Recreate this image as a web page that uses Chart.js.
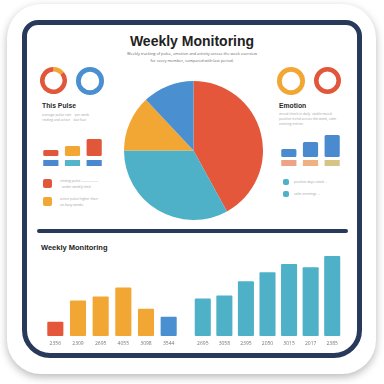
<!DOCTYPE html>
<html>
<head>
<meta charset="utf-8">
<script src="https://cdn.jsdelivr.net/npm/chart.js@4.4.1/dist/chart.umd.min.js"></script>
<style>
  html, body { margin: 0; padding: 0; background: #fff; }
  body { width: 384px; height: 384px; position: relative; overflow: hidden; font-family: "Open Sans", "DejaVu Sans", sans-serif; }
  .card { position: absolute; left: 7px; top: 4px; width: 369px; height: 370px; border-radius: 34px; background: #fff;
          box-shadow: 0 3px 9px rgba(0,0,0,0.28); }
  .frame { position: absolute; left: 22px; top: 20px; width: 330px; height: 328px; border: 5px solid #29395b;
           border-radius: 16px 16px 28px 28px; background: #fff; }
  .abs { position: absolute; }
  canvas.abs { display: block; }
  .title { left: 0; width: 384px; top: 33px; text-align: center; font-family: "Liberation Sans", Arial, sans-serif; font-weight: 700; font-size: 14px; color: #222; }
  .sub { left: 0; width: 384px; text-align: center; font-size: 3.9px; color: #666; line-height: 6px; }
  .lbl { font-family: "Liberation Sans", Arial, sans-serif; font-weight: 700; font-size: 6.8px; color: #2a2a2a; }
  .faint { font-size: 3.4px; color: #a5a5a5; line-height: 5px; white-space: nowrap; }
  .sq { width: 9px; height: 9px; border-radius: 2px; }
  .divider { left: 37px; top: 229px; width: 311px; height: 4px; border-radius: 2px; background: #29395b; }
  .lbl2 { left: 41px; top: 243px; font-family: "Liberation Sans", Arial, sans-serif; font-weight: 700; font-size: 7.5px; color: #222; }
</style>
</head>
<body>
<div class="card"></div>
<div class="frame"></div>

<div class="abs title">Weekly Monitoring</div>
<div class="abs sub" style="top:51px">Weekly tracking of pulse, emotion and activity across the week overview</div>
<div class="abs sub" style="top:58px">for every member, compared with last period.</div>

<canvas id="donutA" class="abs" width="27" height="27" style="left:40px;top:67px"></canvas>
<canvas id="donutB" class="abs" width="28" height="28" style="left:76px;top:67px"></canvas>
<canvas id="donutC" class="abs" width="28" height="28" style="left:277px;top:67px"></canvas>
<canvas id="donutD" class="abs" width="27" height="27" style="left:314px;top:67px"></canvas>

<div class="abs lbl" style="left:42px;top:102px">This Pulse</div>
<div class="abs faint" style="left:42px;top:112px">average pulse rate&nbsp;&nbsp;&nbsp; per week</div>
<div class="abs faint" style="left:42px;top:117px">resting and active&nbsp;&nbsp;&nbsp; last four</div>

<div class="abs lbl" style="left:279px;top:102px">Emotion</div>
<div class="abs faint" style="left:279px;top:111px">mood check in daily&nbsp; stable mood</div>
<div class="abs faint" style="left:279px;top:116px">positive trend across the week, calm</div>
<div class="abs faint" style="left:279px;top:121px">evening entries</div>

<canvas id="miniLeft" class="abs" width="65" height="31" style="left:40px;top:135px"></canvas>
<canvas id="miniRight" class="abs" width="65" height="31" style="left:278px;top:135px"></canvas>

<div class="abs sq" style="left:43px;top:179px;background:#e0573a"></div>
<div class="abs faint" style="left:60px;top:178px">resting pulse —————</div>
<div class="abs faint" style="left:60px;top:184px">&nbsp;&nbsp;under weekly limit</div>
<div class="abs sq" style="left:43px;top:197px;background:#f2a633"></div>
<div class="abs faint" style="left:60px;top:196px">active pulse higher than</div>
<div class="abs faint" style="left:60px;top:202px">on busy weeks</div>

<div class="abs sq" style="left:283px;top:179px;width:6px;height:6px;background:#4eb1c7"></div>
<div class="abs faint" style="left:294px;top:179px">positive days rated &nbsp;..</div>
<div class="abs sq" style="left:283px;top:191px;width:6px;height:6px;background:#4eb1c7"></div>
<div class="abs faint" style="left:294px;top:191px">calm evenings &nbsp;..</div>

<canvas id="pie" class="abs" width="139" height="139" style="left:124px;top:81px"></canvas>

<div class="abs divider"></div>
<div class="abs lbl2">Weekly Monitoring</div>

<canvas id="barsLeft" class="abs" width="136" height="97" style="left:44px;top:255px"></canvas>
<canvas id="barsRight" class="abs" width="151" height="97" style="left:192px;top:255px"></canvas>

<script>
// ---- data ----
const pieLabels = ['Pulse', 'Activity', 'Sleep', 'Emotion'];
const pieValues = [42, 33, 13, 12];
const pieColors = ['#e4573a', '#4eb1c7', '#f2a633', '#4a8fd0'];

const donutAValues = [14, 86];
const donutAColors = ['#f2a633', '#e0573a'];
const donutBValues = [100];
const donutCValues = [100];
const donutDValues = [100];

const miniCats = ['A', 'B', 'C'];
const miniLeftTop = [6, 10, 17];
const miniLeftTopColors = ['#e0573a', '#f2a633', '#e0573a'];
const miniLeftBase = [6, 6, 6];
const miniLeftBaseColors = ['#4a89cf', '#55b4c9', '#4a89cf'];
const miniRightTop = [8, 15, 22];
const miniRightBase = [6, 6, 6];
const miniRightBaseColors = ['#eea386', '#efb182', '#d6c386'];
const miniGap = [4, 4, 4];
const miniRightGap = [3, 3, 3];

const leftYears = ['2356', '2309', '2695', '4055', '3098', '3544'];
const leftValues = [14, 35, 39, 48, 27, 19];
const leftColors = ['#e4573a', '#f2a633', '#f2a633', '#f2a633', '#f2a633', '#4a8fd0'];
const rightYears = ['2695', '3058', '2395', '2050', '3015', '2017', '2385'];
const rightValues = [37, 40, 54, 63, 71, 68, 79];

Chart.defaults.font.family = '"Open Sans", "DejaVu Sans", sans-serif';
Chart.defaults.animation = false;
Chart.defaults.plugins.legend.display = false;
Chart.defaults.plugins.tooltip.enabled = false;

function donut(id, values, colors) {
  new Chart(document.getElementById(id), {
    type: 'doughnut',
    data: { labels: values.map((v, i) => 'p' + i), datasets: [{ data: values, backgroundColor: colors, borderWidth: 0 }] },
    options: { responsive: false, cutout: '66%', layout: { padding: 0 } }
  });
}
donut('donutA', donutAValues, donutAColors);
donut('donutB', donutBValues, ['#4a8fd0']);
donut('donutC', donutCValues, ['#f2a633']);
donut('donutD', donutDValues, ['#e0573a']);

new Chart(document.getElementById('pie'), {
  type: 'pie',
  data: { labels: pieLabels, datasets: [{ data: pieValues, backgroundColor: pieColors, borderWidth: 0 }] },
  options: { responsive: false, layout: { padding: 0 } }
});

function mini(id, base, baseColors, gap, top, topColors) {
  new Chart(document.getElementById(id), {
    type: 'bar',
    data: {
      labels: miniCats,
      datasets: [
        { data: base, backgroundColor: baseColors, borderRadius: 1, borderSkipped: false },
        { data: gap, backgroundColor: 'rgba(0,0,0,0)' },
        { data: top, backgroundColor: topColors, borderRadius: 1.5, borderSkipped: false }
      ]
    },
    options: {
      responsive: false,
      layout: { padding: 0 },
      datasets: { bar: { categoryPercentage: 0.7, barPercentage: 1 } },
      scales: {
        x: { display: false, stacked: true },
        y: { display: false, stacked: true, min: 0, max: 31 }
      }
    }
  });
}
mini('miniLeft', miniLeftBase, miniLeftBaseColors, miniGap, miniLeftTop, miniLeftTopColors);
mini('miniRight', miniRightBase, miniRightBaseColors, miniRightGap, miniRightTop, '#4a8bd0');

function bars(id, labels, values, colors, pct) {
  new Chart(document.getElementById(id), {
    type: 'bar',
    data: { labels: labels, datasets: [{ data: values, backgroundColor: colors, borderRadius: 1, borderSkipped: false }] },
    options: {
      responsive: false,
      layout: { padding: 0 },
      datasets: { bar: { categoryPercentage: pct, barPercentage: 1 } },
      scales: {
        x: {
          grid: { display: false, drawTicks: false },
          border: { display: false },
          ticks: { font: { size: 5 }, color: '#777', padding: 5, autoSkip: false, maxRotation: 0 }
        },
        y: { display: false, min: 0, max: 80 }
      }
    }
  });
}
bars('barsLeft', leftYears, leftValues, leftColors, 0.71);
bars('barsRight', rightYears, rightValues, '#4eb1c7', 0.745);
</script>
</body>
</html>
